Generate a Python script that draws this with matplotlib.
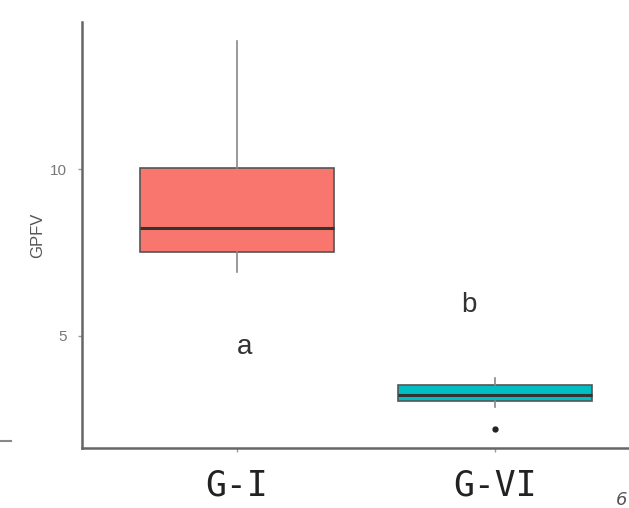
import matplotlib
matplotlib.use("Agg")
import matplotlib.pyplot as plt
from matplotlib.lines import Line2D

# group data
groups = ["G-I", "G-VI"]
medians = [8.25, 3.22]
q1 = [7.53, 3.04]
q3 = [10.03, 3.52]
whis_lo = [6.93, 2.86]
whis_hi = [13.86, 3.73]
outliers = [[], [2.2]]
fills = ["#F8766D", "#00BFC4"]
letters = ["a", "b"]
letter_x = [1.03, 1.9]
letter_y = [4.67, 5.93]

W, H = 629, 508
fig = plt.figure(figsize=(W / 100, H / 100), dpi=100)

# axes position in pixels, right side runs off the picture like the original crop
left, bottom, top = 82, 448, 22
xscale = 258.0
ax = fig.add_axes([left / W, (H - bottom) / H, 2.2 * xscale / W, (bottom - top) / H])

stats = []
for i, g in enumerate(groups):
    stats.append({
        "label": g, "med": medians[i], "q1": q1[i], "q3": q3[i],
        "whislo": whis_lo[i], "whishi": whis_hi[i], "fliers": outliers[i],
    })

bp = ax.bxp(stats, positions=[1, 2], widths=0.75, patch_artist=True,
            showcaps=False,
            boxprops=dict(edgecolor="#555555", linewidth=1.2),
            medianprops=dict(color="#333333", linewidth=2.2),
            whiskerprops=dict(color="#888888", linewidth=1.2),
            flierprops=dict(marker="o", markerfacecolor="#222222",
                            markeredgecolor="#222222", markersize=3.5))
for patch, c in zip(bp["boxes"], fills):
    patch.set_facecolor(c)

for i, l in enumerate(letters):
    ax.text(letter_x[i], letter_y[i], l, ha="center", va="center", fontsize=20,
            color="#333333", family="Liberation Sans")

ax.set_xlim(0.4, 2.6)
ax.set_ylim(1.63, 14.43)
ax.set_yticks([5, 10])
ax.set_yticklabels(["5", "10"], fontsize=11, color="#777777", family="Liberation Sans")
ax.set_xticks([1, 2])
ax.set_xticklabels(groups, fontsize=25, color="#222222", family="DejaVu Sans Mono")
ax.tick_params(axis="y", length=3, width=1, color="#999999", pad=8)
ax.tick_params(axis="x", length=3, width=1, color="#999999", pad=12)
ax.set_ylabel("GPFV", fontsize=12, color="#555555", family="Liberation Sans", labelpad=3)

for s in ["top", "right"]:
    ax.spines[s].set_visible(False)
for s in ["left", "bottom"]:
    ax.spines[s].set_color("#666666")
    ax.spines[s].set_linewidth(1.8)

# stray tick at the far left and cut-off text at bottom right
fig.add_artist(Line2D([0, 11 / W], [1 - 441 / H] * 2, color="#888888", linewidth=1.5))
fig.text(616 / W, 1 - 500 / H, "6", fontsize=13, color="#555555", style="italic",
         va="center", ha="left")

fig.savefig("out.png", dpi=100)
